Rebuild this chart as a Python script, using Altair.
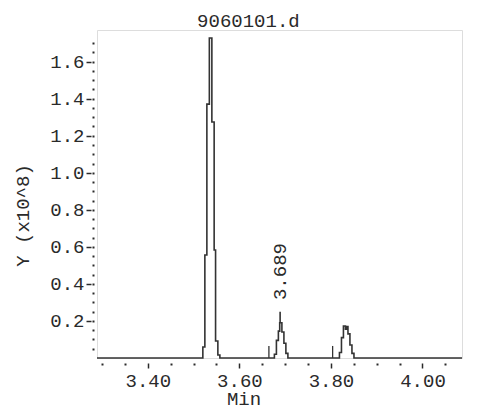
import altair as alt
import pandas as pd

FONT = "Liberation Mono"
INK = "#2a2a2a"

# chromatogram trace (step-after points): retention time (min), response (x10^8)
trace_time = [3.289, 3.5202, 3.5246, 3.5290, 3.5344, 3.5399, 3.5449, 3.5480, 3.5530, 3.5574,
              3.6765, 3.6809, 3.6852, 3.6881, 3.6929, 3.6973, 3.7016, 3.7060,
              3.8186, 3.8230, 3.8273, 3.8317, 3.8339, 3.8372, 3.8415, 3.8459, 3.8503, 4.0863]
trace_value = [0.0, 0.059, 0.556, 1.371, 1.728, 1.274, 0.583, 0.092, 0.016, 0.0,
               0.02, 0.095, 0.145, 0.19, 0.14, 0.08, 0.025, 0.0,
               0.03, 0.11, 0.173, 0.155, 0.17, 0.13, 0.07, 0.025, 0.0, 0.0]

# integration start markers
marker_time = [3.6645, 3.8037]
marker_height = [0.065, 0.065]

# labelled peak
apex_time = [3.689]
apex_low = [0.195]
apex_high = [0.25]
apex_label = ["3.689"]
apex_label_at = [0.313]

# data-file name shown above the trace
file_name = ["9060101.d"]
file_name_time = [3.6197]
file_name_level = [1.787]

x_major = [3.40, 3.60, 3.80, 4.00]
x_minor = [3.30, 3.35, 3.45, 3.50, 3.55, 3.65, 3.70, 3.75, 3.85, 3.90, 3.95, 4.05]
y_major = [0.2, 0.4, 0.6, 0.8, 1.0, 1.2, 1.4, 1.6]
y_minor = [round(0.05 * i, 2) for i in range(1, 35)]

X_DOMAIN = [3.289, 4.0863]
Y_DOMAIN = [0, 1.771]

trace = pd.DataFrame({"t": trace_time, "v": trace_value})
markers = pd.DataFrame({"t": marker_time, "h": marker_height, "z": [0.0, 0.0]})
apex = pd.DataFrame({"t": apex_time, "lo": apex_low, "hi": apex_high,
                     "label": apex_label, "at": apex_label_at})
name_df = pd.DataFrame({"t": file_name_time, "v": file_name_level, "label": file_name})

xs = alt.Scale(domain=X_DOMAIN, nice=False, zero=False)
ys = alt.Scale(domain=Y_DOMAIN, nice=False, zero=False)

x_main_axis = alt.Axis(values=x_major, format=".2f", orient="bottom", offset=5, tickSize=5,
                       tickWidth=1.5, tickColor=INK, domain=False, grid=False,
                       labelFont=FONT, labelFontSize=19, labelColor=INK, labelPadding=3,
                       title="Min", titleFont=FONT, titleFontSize=19, titleFontWeight="normal",
                       titleColor=INK, titleX=146.5, titleY=41, titleAlign="center",
                       titleBaseline="alphabetic", titleAngle=0)
x_minor_axis = alt.Axis(values=x_minor, orient="bottom", offset=5, tickSize=2, tickWidth=2,
                        tickColor=INK, domain=False, grid=False, labels=False, title=None)
y_main_axis = alt.Axis(values=y_major, format=".1f", orient="left", offset=6, tickSize=5,
                       tickWidth=1.5, tickColor=INK, domain=False, grid=False,
                       labelFont=FONT, labelFontSize=19, labelColor=INK, labelPadding=2,
                       title="Y (x10^8)", titleFont=FONT, titleFontSize=19,
                       titleFontWeight="normal", titleColor=INK, titleX=-63, titleY=185,
                       titleAlign="center", titleBaseline="alphabetic", titleAngle=270)
y_minor_axis = alt.Axis(values=y_minor, orient="left", offset=3, tickSize=2, tickWidth=2,
                        tickColor=INK, domain=False, grid=False, labels=False, title=None)

line = alt.Chart(trace).mark_line(interpolate="step-after", color="#333333",
                                  strokeWidth=1.6, clip=False).encode(
    x=alt.X("t:Q", scale=xs, axis=x_main_axis),
    y=alt.Y("v:Q", scale=ys, axis=y_main_axis),
)

minor_ticks = alt.Chart(trace).mark_point(opacity=0).encode(
    x=alt.X("t:Q", scale=xs, axis=x_minor_axis),
    y=alt.Y("v:Q", scale=ys, axis=y_minor_axis),
)

mark_rules = alt.Chart(markers).mark_rule(color="#333333", strokeWidth=1.3).encode(
    x=alt.X("t:Q", scale=xs, axis=None), y=alt.Y("z:Q", scale=ys, axis=None), y2="h:Q")

apex_rule = alt.Chart(apex).mark_rule(color="#333333", strokeWidth=1.6).encode(
    x=alt.X("t:Q", scale=xs, axis=None), y=alt.Y("lo:Q", scale=ys, axis=None), y2="hi:Q")

apex_text = alt.Chart(apex).mark_text(angle=270, align="left", baseline="middle",
                                      font=FONT, fontSize=19, color=INK).encode(
    x=alt.X("t:Q", scale=xs, axis=None), y=alt.Y("at:Q", scale=ys, axis=None),
    text="label:N")

name_text = alt.Chart(name_df).mark_text(align="center", baseline="alphabetic",
                                         font=FONT, fontSize=19, color=INK).encode(
    x=alt.X("t:Q", scale=xs, axis=None), y=alt.Y("v:Q", scale=ys, axis=None),
    text="label:N")

chart = alt.layer(line, minor_ticks, mark_rules, apex_rule, apex_text, name_text).resolve_axis(
    x="independent", y="independent"
).properties(
    width=365, height=328,
    autosize=alt.AutoSizeParams(type="none"),
    padding={"left": 89, "top": 22, "right": 9, "bottom": 51},
).configure_view(stroke=None).configure(background="white")

chart.save("out.html", embed_options={"renderer": "svg", "actions": False})
